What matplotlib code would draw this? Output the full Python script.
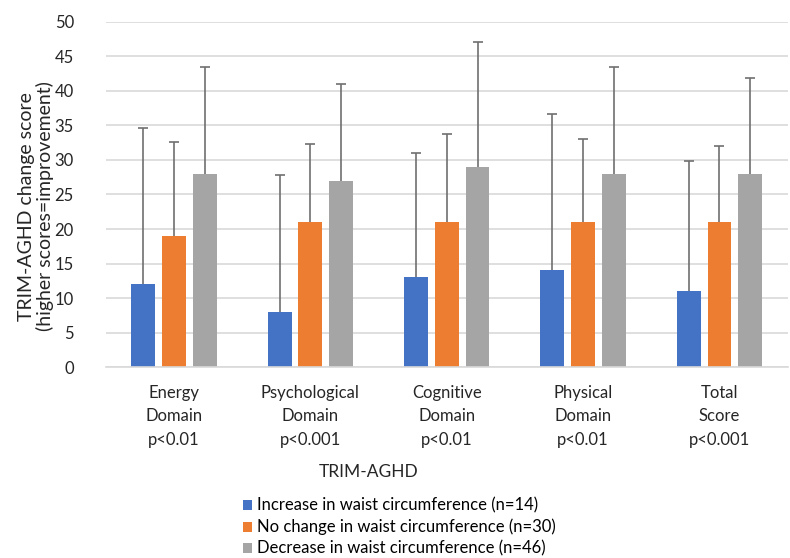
import numpy as np
import matplotlib.pyplot as plt

plt.rcParams['font.family'] = ['Lato', 'DejaVu Sans']

categories = ["Energy\nDomain\np<0.01", "Psychological\nDomain\np<0.001",
              "Cognitive\nDomain\np<0.01", "Physical\nDomain\np<0.01",
              "Total\nScore\np<0.001"]
series = ["Increase in waist circumference (n=14)",
          "No change in waist circumference (n=30)",
          "Decrease in waist circumference (n=46)"]
increase = [12, 8, 13, 14, 11]
no_change = [19, 21, 21, 21, 21]
decrease = [28, 27, 29, 28, 28]
increase_err = [22.6, 19.8, 18.0, 22.7, 18.9]
no_change_err = [13.6, 11.3, 12.8, 12.1, 11.0]
decrease_err = [15.5, 14.0, 18.1, 15.5, 13.8]

colors = ["#4472C4", "#ED7D31", "#A5A5A5"]
text_color = "#262626"

fig = plt.figure(figsize=(7.9, 5.58), dpi=100)
ax = fig.add_axes([0.134, 0.342, 0.863, 0.619])

x = np.arange(len(categories))
width = 0.175
step = 0.226
data = [increase, no_change, decrease]
errs = [increase_err, no_change_err, decrease_err]
for i, (vals, err) in enumerate(zip(data, errs)):
    pos = x + (i - 1) * step
    ax.bar(pos, vals, width, color=colors[i], label=series[i], zorder=2)
    lower = np.zeros(len(vals))
    eb = ax.errorbar(pos, vals, yerr=[lower, err], fmt="none", ecolor="#6f6f6f",
                     elinewidth=1.2, capsize=3.6, capthick=1.2, zorder=3)
    # hide the cap sitting on top of the bar (lower end)
    eb[1][0].set_visible(False)

ax.set_ylim(0, 50)
ax.set_xlim(-0.5, len(categories) - 0.5)
ax.set_yticks(range(0, 51, 5))
ax.set_xticks(x)
ax.set_xticklabels(categories, fontsize=12, color=text_color, linespacing=1.55)
ax.tick_params(axis="y", labelsize=12, length=0, labelcolor=text_color, pad=23)
ax.tick_params(axis="x", length=0, pad=13)
ax.grid(axis="y", color="#d9d9d9", linewidth=1.2, zorder=0)
for s in ["top", "right", "left"]:
    ax.spines[s].set_visible(False)
ax.spines["bottom"].set_color("#d9d9d9")
ax.spines["bottom"].set_linewidth(1.2)

fig.text(0.0456, 0.63, "TRIM-AGHD change score\n(higher scores=improvement)",
         rotation=90, ha="center", va="center", fontsize=14, color=text_color,
         linespacing=1.1)
fig.text(0.466, 0.155, "TRIM-AGHD", ha="center", va="center", fontsize=12.5, color=text_color)

fig.legend(loc="upper left", bbox_to_anchor=(0.308, 0.108), frameon=False, fontsize=12,
           handlelength=0.55, handleheight=0.55, handletextpad=0.3, labelspacing=0.3,
           borderpad=0, borderaxespad=0)

fig.savefig("out.png", dpi=100)
